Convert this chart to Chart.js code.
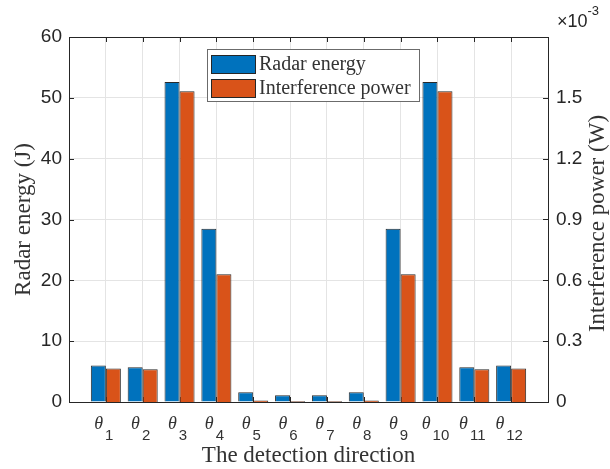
<!DOCTYPE html>
<html>
<head>
<meta charset="utf-8">
<script src="https://cdn.jsdelivr.net/npm/chart.js@4/dist/chart.umd.min.js"></script>
<style>
  html, body { margin: 0; padding: 0; background: #fff; }
  #wrap { width: 610px; height: 469px; }
</style>
</head>
<body>
<div id="wrap"><canvas id="chart"></canvas></div>
<script>
// detection directions theta_1 ... theta_12
const directions = ['1', '2', '3', '4', '5', '6', '7', '8', '9', '10', '11', '12'];
const radarEnergy = [6.0, 5.7, 52.6, 28.5, 1.6, 1.1, 1.1, 1.6, 28.5, 52.6, 5.7, 6.0];          // J
const interferencePower = [0.165e-3, 0.162e-3, 1.533e-3, 0.63e-3, 0.008e-3, 0.0036e-3,
                           0.0036e-3, 0.008e-3, 0.63e-3, 1.533e-3, 0.162e-3, 0.165e-3];       // W
const leftTicks = [0, 10, 20, 30, 40, 50, 60];
const rightTicks = [0, 0.3, 0.6, 0.9, 1.2, 1.5];   // x 10^-3

const serif = "'Liberation Serif', 'Times New Roman', serif";
const sans = "'Liberation Sans', Arial, sans-serif";
const ink = '#262626';

const frame = {
  id: 'frame',
  beforeDatasetsDraw(chart) {
    const { ctx, chartArea: a, scales } = chart;
    ctx.save();
    ctx.strokeStyle = ink;
    ctx.lineWidth = 1;
    ctx.beginPath();
    leftTicks.forEach(v => {
      const y = Math.round(scales.y.getPixelForValue(v)) + 0.5;
      ctx.moveTo(a.left, y); ctx.lineTo(a.left + 5, y);
    });
    rightTicks.forEach(v => {
      const y = Math.round(scales.y2.getPixelForValue(v * 1e-3)) + 0.5;
      ctx.moveTo(a.right, y); ctx.lineTo(a.right - 5, y);
    });
    directions.forEach((d, i) => {
      const x = Math.round(scales.x.getPixelForValue(i + 1)) + 0.5;
      ctx.moveTo(x, a.top); ctx.lineTo(x, a.top + 5);
      ctx.moveTo(x, a.bottom); ctx.lineTo(x, a.bottom - 5);
    });
    ctx.stroke();
    ctx.restore();
  },
  afterDatasetsDraw(chart) {
    const { ctx, chartArea: a } = chart;
    ctx.save();
    ctx.strokeStyle = ink;
    ctx.lineWidth = 1;
    ctx.strokeRect(Math.round(a.left) + 0.5, Math.round(a.top) + 0.5,
                   Math.round(a.right - a.left), Math.round(a.bottom - a.top));
    ctx.restore();
  },
  afterDraw(chart) {
    const { ctx, chartArea: a, scales } = chart;
    ctx.save();
    ctx.fillStyle = ink;
    ctx.textBaseline = 'alphabetic';

    // x tick labels: theta with subscript
    directions.forEach((d, i) => {
      const px = scales.x.getPixelForValue(i + 1);
      ctx.font = 'italic 18px ' + serif;
      const wt = ctx.measureText('θ').width;
      ctx.font = '15px ' + sans;
      const ws = ctx.measureText(d).width;
      const x0 = px - 2 - (wt + 2 + ws) / 2;
      ctx.textAlign = 'left';
      ctx.font = 'italic 18px ' + serif;
      ctx.fillStyle = '#333';
      ctx.fillText('θ', x0, 429);
      ctx.font = '15px ' + sans;
      ctx.fillText(d, x0 + wt + 2, 440);
    });

    // axis titles
    ctx.fillStyle = '#333';
    ctx.font = '23px ' + serif;
    ctx.textAlign = 'center';
    ctx.fillText('The detection direction', (a.left + a.right) / 2, 462);

    ctx.save();
    ctx.translate(30, (a.top + a.bottom) / 2);
    ctx.rotate(-Math.PI / 2);
    ctx.fillText('Radar energy (J)', 0, 0);
    ctx.restore();

    ctx.save();
    ctx.translate(604, (a.top + a.bottom) / 2 + 4);
    ctx.rotate(-Math.PI / 2);
    ctx.fillText('Interference power (W)', 0, 0);
    ctx.restore();

    // exponent label
    ctx.fillStyle = ink;
    ctx.textAlign = 'left';
    ctx.font = '18px ' + sans;
    ctx.fillText('×10', 557, 27);
    const wx = ctx.measureText('×10').width;
    ctx.font = '13px ' + sans;
    ctx.fillText('-3', 557 + wx, 15);

    // legend
    const lx = 207, ly = 49, lw = 212, lh = 52;
    ctx.fillStyle = '#fff';
    ctx.fillRect(lx, ly, lw, lh);
    ctx.strokeStyle = '#6b6b6b';
    ctx.lineWidth = 1;
    ctx.strokeRect(lx + 0.5, ly + 0.5, lw, lh);
    chart.data.datasets.forEach((ds, k) => {
      const sy = ly + 6 + k * 24;
      ctx.fillStyle = ds.backgroundColor;
      ctx.fillRect(lx + 4, sy, 44, 18);
      ctx.strokeStyle = ink;
      ctx.strokeRect(lx + 4.5, sy + 0.5, 44, 18);
      ctx.fillStyle = '#333';
      ctx.font = '20px ' + serif;
      ctx.fillText(ds.label, lx + 52, sy + 15);
    });
    ctx.restore();
  }
};

new Chart(document.getElementById('chart'), {
  type: 'bar',
  data: {
    datasets: [
      {
        label: 'Radar energy',
        data: radarEnergy.map((v, i) => ({ x: i + 1, y: v })),
        yAxisID: 'y',
        backgroundColor: '#0072BD',
        borderColor: '#2a2a2a',
        borderWidth: 1,
        categoryPercentage: 0.815,
        barPercentage: 1.0
      },
      {
        label: 'Interference power',
        data: interferencePower.map((v, i) => ({ x: i + 1, y: v })),
        yAxisID: 'y2',
        backgroundColor: '#D95319',
        borderColor: '#2a2a2a',
        borderWidth: 1,
        categoryPercentage: 0.815,
        barPercentage: 1.0
      }
    ]
  },
  options: {
    responsive: true,
    maintainAspectRatio: false,
    animation: false,
    devicePixelRatio: 1,
    layout: { padding: { top: 37, left: 0, right: 0, bottom: 0 } },
    plugins: {
      legend: { display: false },
      tooltip: { enabled: false }
    },
    scales: {
      x: {
        type: 'linear',
        min: 0,
        max: 13,
        offset: false,
        afterBuildTicks: s => { s.ticks = directions.map((d, i) => ({ value: i + 1 })); },
        afterFit: s => { s.height = 67; },
        ticks: { display: false },
        grid: { color: '#e4e4e4', offset: false, drawTicks: false },
        border: { display: false }
      },
      y: {
        position: 'left',
        min: 0,
        max: 60,
        afterBuildTicks: s => { s.ticks = leftTicks.map(v => ({ value: v })); },
        afterFit: s => { s.width = 69; },
        ticks: { color: ink, padding: 7, font: { family: sans, size: 19 } },
        grid: { color: '#e4e4e4', drawTicks: false },
        border: { display: false }
      },
      y2: {
        position: 'right',
        min: 0,
        max: 1.8e-3,
        afterBuildTicks: s => { s.ticks = rightTicks.map(v => ({ value: v * 1e-3 })); },
        afterFit: s => { s.width = 62; },
        ticks: {
          color: ink,
          padding: 8,
          font: { family: sans, size: 19 },
          callback: v => { const t = Math.round(v * 1e4) / 10; return t === 0 ? '0' : t.toFixed(1); }
        },
        grid: { display: false, drawTicks: false },
        border: { display: false }
      }
    }
  },
  plugins: [frame]
});
</script>
</body>
</html>
